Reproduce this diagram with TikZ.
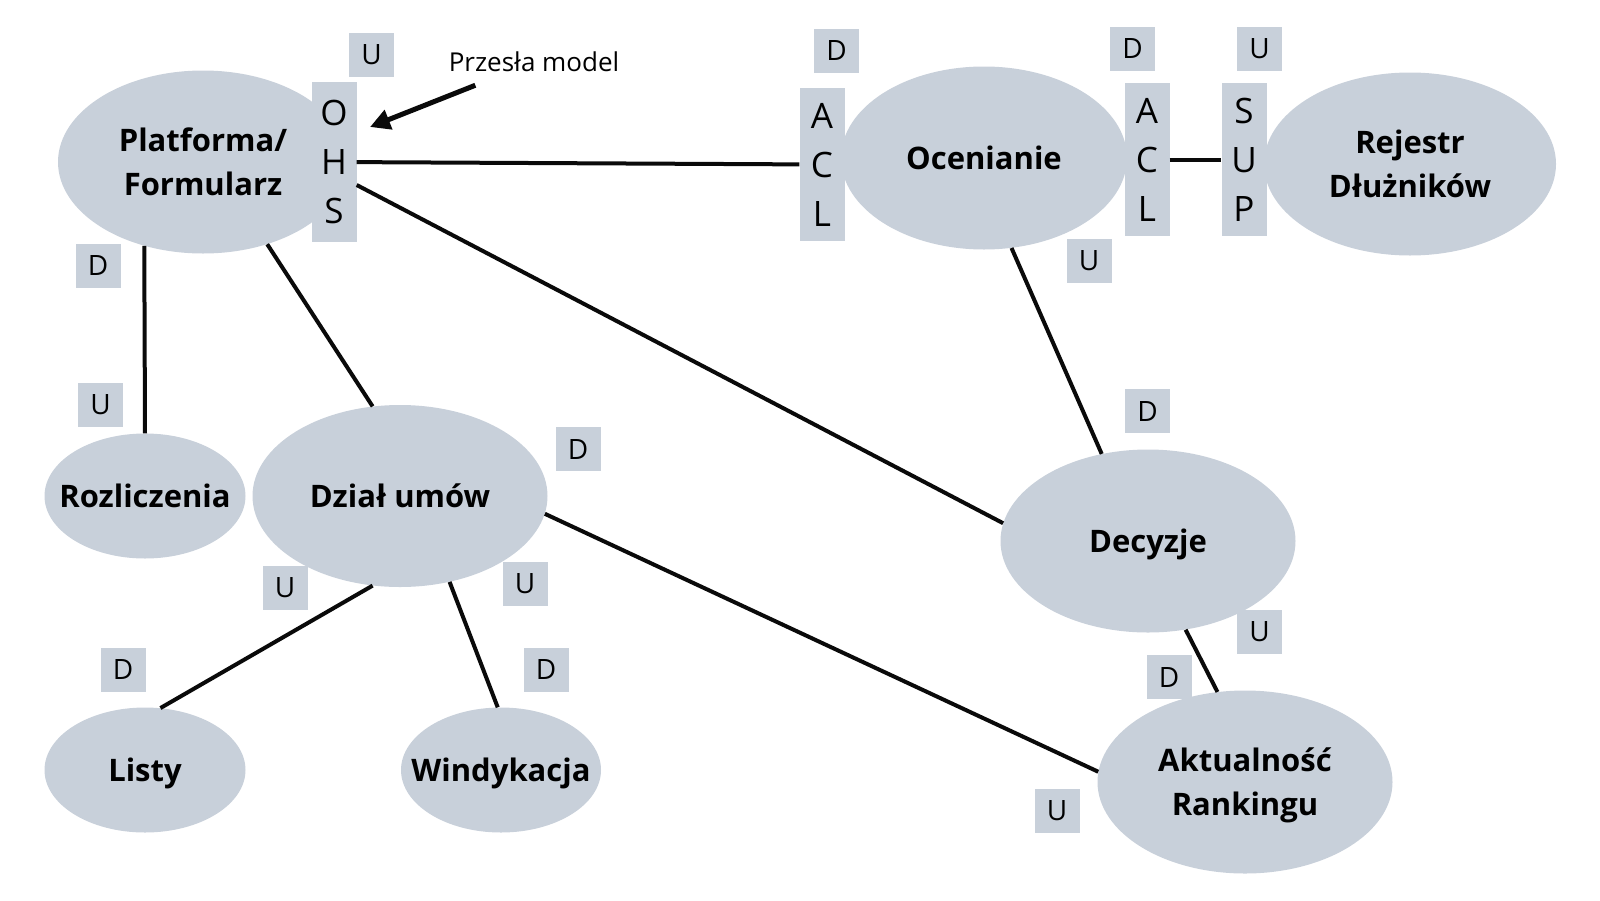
\documentclass[tikz,border=0pt]{standalone}
\usepackage{fontspec}
\setmainfont{Open Sans}
\usepackage{tikz}
\usetikzlibrary{shapes.geometric, arrows.meta}
\definecolor{ctxgray}{RGB}{200,208,218}
\definecolor{linedark}{RGB}{10,10,10}
\tikzset{
  basenode/.style={fill=ctxgray,inner sep=0pt,align=center,text=black},
  ctxnode/.style={basenode,ellipse,minimum width=295pt,minimum height=183pt,text depth=0pt,font=\fontsize{31}{44}\selectfont\bfseries},
  smallctx/.style={ctxnode,minimum width=201pt,minimum height=125pt,inner xsep=-25pt},
  patbox/.style={basenode,rectangle,minimum width=45pt,minimum height=153pt,font=\fontsize{35}{49}\selectfont},
  tagbox/.style={basenode,rectangle,minimum width=45pt,minimum height=44pt,font=\fontsize{28}{30}\selectfont},
  rel/.style={line width=4pt,color=linedark},
  notearr/.style={-{Triangle[length=20pt,width=20pt]},line width=5pt,color=linedark}
}

\begin{document}
\begin{tikzpicture}[x=1pt,y=-1pt]
  \useasboundingbox (0,0) rectangle (1600,900);

  % bounded contexts
  \node[ctxnode,minimum width=290pt] (plat) at (203,162) {Platforma/\\Formularz};
  \node[ctxnode,minimum width=286pt] (ocen) at (984,158) {Ocenianie};
  \node[ctxnode,minimum width=292pt] (rej) at (1410,164) {Rejestr\\Dłużników};
  \node[smallctx] (rozl) at (145,496) {Rozliczenia};
  \node[ctxnode,minimum height=182pt] (dzial) at (400,496) {Dział umów};
  \node[smallctx] (listy) at (145,770) {Listy};
  \node[smallctx,minimum width=200pt] (wind) at (501,770) {Windykacja};
  \node[ctxnode] (dec) at (1148,541) {Decyzje};
  \node[ctxnode] (akt) at (1245,782) {Aktualność\\Rankingu};

  % integration patterns
  \node[patbox,minimum height=160pt] (ohs) at (334,162) {O\\H\\S};
  \node[patbox] (acl1) at (822,164.5) {A\\C\\L};
  \node[patbox] (acl2) at (1147,159.5) {A\\C\\L};
  \node[patbox] (sup) at (1244,159.5) {S\\U\\P};

  % upstream / downstream
  \node[tagbox] (ohsU) at (371.5,55) {U};
  \node[tagbox] (platD) at (98,265.5) {D};
  \node[tagbox] (rozlU) at (100.5,404.5) {U};
  \node[tagbox] (acl1D) at (836.5,51) {D};
  \node[tagbox] (acl2D) at (1132.5,48.5) {D};
  \node[tagbox] (supU) at (1259.5,48.5) {U};
  \node[tagbox] (ocenU) at (1089,261) {U};
  \node[tagbox] (decD) at (1147.5,411) {D};
  \node[tagbox] (dzialD) at (578,449) {D};
  \node[tagbox] (dzialUl) at (285,588) {U};
  \node[tagbox] (dzialUr) at (525,584) {U};
  \node[tagbox] (listyD) at (123,669.5) {D};
  \node[tagbox] (windD) at (546,669.5) {D};
  \node[tagbox] (decU) at (1259.5,632) {U};
  \node[tagbox] (aktD) at (1169,677) {D};
  \node[tagbox] (aktU) at (1057,811) {U};

  % note
  \node[font=\fontsize{26}{30}\selectfont,inner sep=2pt] (note) at (534,62) {Przesła model};
  \coordinate (notetip) at (370,127);
  \draw[notearr,shorten <=30pt] (note) -- (notetip);

  % relations
  \draw[rel] (ohs) -- (acl1);
  \draw[rel] (acl2) -- (sup);
  \draw[rel] (plat.235) -- (rozl.north);
  \draw[rel] (plat.-52) -- (dzial.107);
  \draw[rel] ([yshift=-23pt]ohs.east) -- (dec.173);
  \draw[rel] (ocen.-73) -- (dec.118);
  \draw[rel] (dec.-67) -- (akt.107);
  \draw[rel] (dzial.-7) -- (akt.176);
  \draw[rel] (dzial.253) -- (listy.76);
  \draw[rel] (dzial.-60) -- (wind.93);
\end{tikzpicture}
\end{document}
